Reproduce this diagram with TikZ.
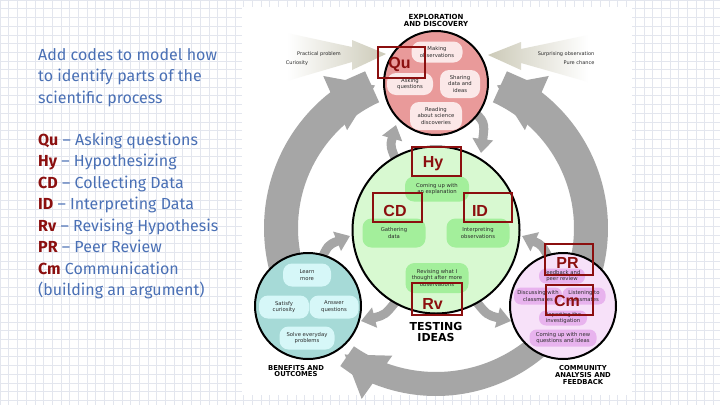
\documentclass[tikz,border=0pt]{standalone}
\usepackage{fontspec}
\setmainfont{DejaVu Sans}
\newfontfamily\notefont{Fira Sans}
\newfontfamily\codefont{Liberation Sans}
\usetikzlibrary{arrows.meta}
\definecolor{gridc}{HTML}{E3E6EE}
\definecolor{noteblue}{HTML}{4A70B5}
\definecolor{codered}{HTML}{8B0F0F}
\definecolor{ringgray}{HTML}{A6A6A6}
\definecolor{beige}{HTML}{CCCAB8}
\definecolor{pinkfill}{HTML}{E99A9A}
\definecolor{pinkbub}{HTML}{FBE8E8}
\definecolor{greenfill}{HTML}{D8F9D1}
\definecolor{greenbub}{HTML}{A3EF9B}
\definecolor{tealfill}{HTML}{A6DAD7}
\definecolor{tealbub}{HTML}{D6F7F8}
\definecolor{lavfill}{HTML}{F7E1F9}
\definecolor{lavbub}{HTML}{E8B3EE}
\definecolor{smalltext}{HTML}{2A2A2A}
\begin{document}
\begin{tikzpicture}[x=1pt,y=-1pt,
  note/.style={anchor=base west, inner sep=0pt, font=\notefont\fontsize{16}{19}\selectfont, text=noteblue},
  bigarc/.style={draw=ringgray, line width=34pt, -{Triangle[width=56pt,length=44pt]}},
  botarc/.style={draw=ringgray, line width=24pt, -{Triangle[width=50pt,length=40pt]}},
  smallarr/.style={draw=ringgray, line width=9pt, -{Triangle[width=20pt,length=14pt]}},
  stage/.style={circle, draw=black, line width=2pt, inner sep=0pt},
  bubble/.style={rounded corners=9pt, inner sep=0pt, align=center, text=smalltext,
    font=\fontsize{5.3}{6.8}\selectfont},
  title/.style={align=center, inner sep=0pt, font=\bfseries\fontsize{7}{7}\selectfont},
  tiny/.style={inner sep=0pt, text=smalltext, font=\fontsize{5}{6}\selectfont},
  codebox/.style={draw=codered, line width=2.3pt, inner sep=0pt},
  codetext/.style={inner sep=0pt, text=codered, font=\codefont\bfseries\fontsize{16}{16}\selectfont}
]
\useasboundingbox (0,0) rectangle (720,405);
\fill[white] (0,0) rectangle (720,405);
\draw[gridc, line width=0.6pt, step=8.7pt] (0,0) grid (720,405);
\fill[white] (242,7) rectangle (632,395);

% notes
\node[note] (n1) at (38,60) {Add codes to model how};
\node[note] (n2) at (38,81.5) {to identify parts of the};
\node[note] (n3) at (38,103) {scientific process};
\node[note] (c1) at (38,145) {\textcolor{codered}{\bfseries Qu} – Asking questions};
\node[note] (c2) at (38,166.5) {\textcolor{codered}{\bfseries Hy} – Hypothesizing};
\node[note] (c3) at (38,188) {\textcolor{codered}{\bfseries CD} – Collecting Data};
\node[note] (c4) at (38,209.5) {\textcolor{codered}{\bfseries ID} – Interpreting Data};
\node[note] (c5) at (38,231) {\textcolor{codered}{\bfseries Rv} – Revising Hypothesis};
\node[note] (c6) at (38,252.5) {\textcolor{codered}{\bfseries PR} – Peer Review};
\node[note] (c7) at (38,274) {\textcolor{codered}{\bfseries Cm} Communication};
\node[note] (c8) at (38,295.5) {(building an argument)};

% big ring arrows
\draw[bigarc] plot[domain=164:247, samples=60] ({436+155*cos(\x)},{228+155*sin(\x)});
\draw[bigarc] plot[domain=16:-67, samples=60] ({436+155*cos(\x)},{228+155*sin(\x)});
\draw[botarc] plot[domain=49:126, samples=60] ({436+156*cos(\x)},{228+156*sin(\x)});

% small arrows
\coordinate (s1a) at (398,165); \coordinate (s1b) at (396,125);
\coordinate (s2a) at (470,108); \coordinate (s2b) at (481,153);
\coordinate (s3a) at (320,262); \coordinate (s3b) at (350,236);
\coordinate (s4a) at (397,300); \coordinate (s4b) at (361,321);
\coordinate (s5a) at (550,260); \coordinate (s5b) at (522,236);
\coordinate (s6a) at (475,300); \coordinate (s6b) at (511,321);
\draw[smallarr] (s1a) .. controls (390,146) .. (s1b);
\draw[smallarr] (s2a) .. controls (485,122) .. (s2b);
\draw[smallarr] (s3a) .. controls (328,245) .. (s3b);
\draw[smallarr] (s4a) .. controls (385,315) .. (s4b);
\draw[smallarr] (s5a) .. controls (542,245) .. (s5b);
\draw[smallarr] (s6a) .. controls (487,315) .. (s6b);

% beige input arrows
\shade[left color=white, right color=beige] (287,33) -- (352,47) -- (352,40) -- (386,54) -- (352,70) -- (352,62) -- (287,81) -- cycle;
\shade[left color=beige, right color=white] (588,35) -- (521,49) -- (521,42) -- (488,55) -- (521,70) -- (521,63) -- (588,82) -- cycle;
\node[tiny] (pp) at (319,54) {Practical problem};
\node[tiny] (cu) at (297,63) {Curiosity};
\node[tiny] (so) at (566,54) {Surprising observation};
\node[tiny] (pc) at (579,63) {Pure chance};

% stage circles
\node[stage, fill=pinkfill, minimum size=104pt] (explore) at (436,83) {};
\node[stage, fill=greenfill, minimum size=167pt] (testing) at (436,230) {};
\node[stage, fill=tealfill, minimum size=106pt] (benefits) at (308,306) {};
\node[stage, fill=lavfill, minimum size=106pt] (community) at (563,306) {};

% bubbles: exploration
\node[bubble, fill=pinkbub, minimum width=51pt, minimum height=21pt] (e1) at (437,52) {Making\\observations};
\node[bubble, fill=pinkbub, minimum width=46pt, minimum height=22pt] (e2) at (410,84) {Asking\\questions};
\node[bubble, fill=pinkbub, minimum width=40pt, minimum height=28pt] (e3) at (460,84) {Sharing\\data and\\ideas};
\node[bubble, fill=pinkbub, minimum width=52pt, minimum height=28pt] (e4) at (436,116) {Reading\\about science\\discoveries};

% bubbles: testing
\node[bubble, fill=greenbub, minimum width=64pt, minimum height=25pt] (t1) at (437,189) {Coming up with\\an explanation};
\node[bubble, fill=greenbub, minimum width=63pt, minimum height=29pt] (t2) at (394,233) {Gathering\\data};
\node[bubble, fill=greenbub, minimum width=63pt, minimum height=29pt] (t3) at (478,233) {Interpreting\\observations};
\node[bubble, fill=greenbub, minimum width=63pt, minimum height=30pt] (t4) at (437,278) {Revising what I\\thought after more\\observations};

% bubbles: benefits
\node[bubble, fill=tealbub, minimum width=48pt, minimum height=23pt] (b1) at (307,275) {Learn\\more};
\node[bubble, fill=tealbub, minimum width=50pt, minimum height=23pt] (b2) at (284,307) {Satisfy\\curiosity};
\node[bubble, fill=tealbub, minimum width=49pt, minimum height=23pt] (b3) at (334,307) {Answer\\questions};
\node[bubble, fill=tealbub, minimum width=55pt, minimum height=23pt] (b4) at (307,338) {Solve everyday\\problems};

% bubbles: community
\node[bubble, rounded corners=7pt, fill=lavbub, minimum width=46pt, minimum height=15pt] (m1) at (562,276) {Feedback and\\peer review};
\node[bubble, rounded corners=7pt, fill=lavbub, minimum width=48pt, minimum height=17pt] (m2) at (538,296) {Discussing with\\classmates};
\node[bubble, rounded corners=7pt, fill=lavbub, minimum width=43pt, minimum height=17pt] (m3) at (584,296) {Listening to\\classmates};
\node[bubble, rounded corners=7pt, fill=lavbub, minimum width=48pt, minimum height=15pt] (m4) at (563,318) {Reporting the\\investigation};
\node[bubble, rounded corners=7pt, fill=lavbub, minimum width=67pt, minimum height=17pt] (m5) at (563,338) {Coming up with new\\questions and ideas};

% titles
\node[title] (te) at (436,20) {EXPLORATION\\AND DISCOVERY};
\node[title, font=\bfseries\fontsize{11}{11}\selectfont] (tt) at (436,332) {TESTING\\IDEAS};
\node[title, font=\bfseries\fontsize{6.8}{6.8}\selectfont] (tb) at (296,371) {BENEFITS AND\\OUTCOMES};
\node[title, font=\bfseries\fontsize{6.8}{7}\selectfont] (tc) at (583,375) {COMMUNITY\\ANALYSIS AND\\FEEDBACK};

% code boxes
\node[codebox, minimum width=47pt, minimum height=31pt] (qu) at (401.5,62.5) {};
\node[codetext] (qut) at (399.5,64) {Qu};
\node[codebox, minimum width=49pt, minimum height=29pt] (hy) at (436.5,161.5) {};
\node[codetext] (hyt) at (433,164) {Hy};
\node[codebox, minimum width=49pt, minimum height=29pt] (cd) at (397.5,207.5) {};
\node[codetext] (cdt) at (395,210.5) {CD};
\node[codebox, minimum width=48pt, minimum height=29pt] (id) at (488,207.5) {};
\node[codetext] (idt) at (480,210.5) {ID};
\node[codebox, minimum width=50pt, minimum height=32pt] (rv) at (437,299) {};
\node[codetext] (rvt) at (432.5,303.5) {Rv};
\node[codebox, minimum width=48pt, minimum height=31pt] (pr) at (569,259.5) {};
\node[codetext] (prt) at (567.5,263) {PR};
\node[codebox, minimum width=47pt, minimum height=30pt] (cm) at (569.5,300) {};
\node[codetext] (cmt) at (567,301) {Cm};
\end{tikzpicture}
\end{document}
